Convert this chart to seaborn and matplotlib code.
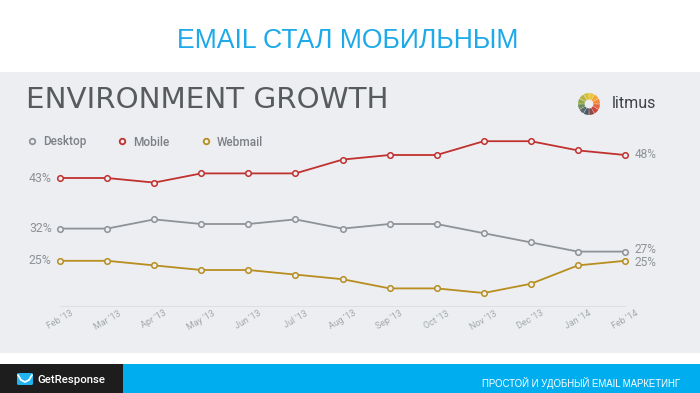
import matplotlib
matplotlib.use("Agg")
import matplotlib.pyplot as plt
from matplotlib.patches import Rectangle, Wedge, FancyBboxPatch
from matplotlib.lines import Line2D
import seaborn as sns
import pandas as pd

months = ["Feb '13", "Mar '13", "Apr '13", "May '13", "Jun '13", "Jul '13", "Aug '13",
          "Sep '13", "Oct '13", "Nov '13", "Dec '13", "Jan '14", "Feb '14"]
desktop = [32, 32, 34, 33, 33, 34, 32, 33, 33, 31, 29, 27, 27]
mobile = [43, 43, 42, 44, 44, 44, 47, 48, 48, 51, 51, 49, 48]
webmail = [25, 25, 24, 23, 23, 22, 21, 19, 19, 18, 20, 24, 25]
series_names = ["Desktop", "Mobile", "Webmail"]
colors = {"Desktop": "#8e9398", "Mobile": "#c0312f", "Webmail": "#b78e1f"}

rows = []
for name, vals in zip(series_names, [desktop, mobile, webmail]):
    for i, v in enumerate(vals):
        rows.append({"idx": i, "month": months[i], "value": v, "series": name})
df = pd.DataFrame(rows)

sns.set_theme(style="white")
plt.rcParams['font.family'] = ['Roboto', 'DejaVu Sans']

W, H = 700, 393
fig = plt.figure(figsize=(7, 3.93), dpi=100)
fig.patch.set_facecolor("white")

def fx(px):
    return px / W

def fy(py):
    return 1 - py / H

BG = "#eceef1"
# chart image background
fig.patches.append(Rectangle((0, fy(353)), 1, (353 - 72) / H, transform=fig.transFigure,
                             facecolor=BG, edgecolor="none", zorder=-10))
# footer
fig.patches.append(Rectangle((0, 0), fx(123), fy(364), transform=fig.transFigure,
                             facecolor="#1e1d1e", edgecolor="none", zorder=-10))
fig.patches.append(Rectangle((fx(123), 0), 1 - fx(123), fy(364), transform=fig.transFigure,
                             facecolor="#00aeef", edgecolor="none", zorder=-10))

# slide title
fig.text(0.497, fy(41), "EMAIL СТАЛ МОБИЛЬНЫМ", ha="center", va="center",
         fontsize=19.2, color="#1eaae8", family=["Liberation Sans", "DejaVu Sans"])

# footer texts
fig.text(fx(37), fy(380), "GetResponse", ha="left", va="center", fontsize=8.2,
         color="white", family=["Roboto", "DejaVu Sans"], fontweight="medium")
fig.text(fx(680), fy(383), "ПРОСТОЙ И УДОБНЫЙ EMAIL МАРКЕТИНГ", ha="right", va="center",
         fontsize=6.9, color="white", family=["Liberation Sans", "DejaVu Sans"])
# GetResponse icon
fig.patches.append(FancyBboxPatch((fx(17), fy(385)), fx(16), (385 - 373) / H,
                                  boxstyle="round,pad=0.0,rounding_size=0.003",
                                  transform=fig.transFigure, facecolor="#20b4f0",
                                  edgecolor="none", zorder=2))
fig.lines.append(Line2D([fx(18), fx(21), fx(25), fx(29), fx(32)],
                        [fy(375), fy(380), fy(382), fy(380), fy(375)],
                        transform=fig.transFigure, color="white", lw=1.3, zorder=3))

# chart title
fig.text(fx(26), fy(100), "ENVIRONMENT GROWTH", ha="left", va="center",
         fontsize=21.2, color="#585b5e", family=["DejaVu Sans"])

# litmus logo
lax = fig.add_axes([fx(578), fy(115), fx(22), 22 / H])
lax.set_xlim(-1, 1)
lax.set_ylim(-1, 1)
lax.axis("off")
ring_colors = ["#ecc53a", "#f5a733", "#f28a3a", "#e6673a", "#cc443a", "#8c4a44",
               "#4c5863", "#5d6b6e", "#6f8d57", "#93a749", "#b7b542", "#d8c03c"]
n = len(ring_colors)
for k, c in enumerate(ring_colors):
    start = 90 - (k + 1) * 360 / n
    lax.add_patch(Wedge((0, 0), 1.0, start + 1.5, start + 360 / n - 1.5, width=0.6,
                        facecolor=c, edgecolor="none"))
fig.text(fx(612), fy(103), "litmus", ha="left", va="center", fontsize=11.5,
         color="#3d4146")

# main axes
y_bottom_px, y_top_px = 306, 130
scale = 4.6  # px per percent
v_bottom = 43 - (y_bottom_px - 178) / scale
v_top = 43 + (178 - y_top_px) / scale
ax = fig.add_axes([fx(60), fy(y_bottom_px), fx(625) - fx(60), (y_bottom_px - y_top_px) / H])
ax.set_facecolor("none")
sns.lineplot(data=df, x="idx", y="value", hue="series", palette=colors, ax=ax,
             marker="o", markersize=4, markeredgewidth=1.1, markerfacecolor=BG,
             linewidth=1.3, legend=False, sort=False, clip_on=False)
for line in ax.lines:
    line.set_markeredgecolor(line.get_color())
    line.set_markerfacecolor(BG)
    line.set_clip_on(False)

ax.set_xlim(0, 12)
ax.set_ylim(v_bottom, v_top)
ax.set_xticks(range(len(months)))
ax.set_xticklabels(months, rotation=30, ha="center", fontsize=6.4, color="#a3a7ab")
ax.tick_params(axis="x", length=0, pad=2)
ax.set_yticks([])
ax.set_xlabel("")
ax.set_ylabel("")
for s in ["top", "left", "right"]:
    ax.spines[s].set_visible(False)
ax.spines["bottom"].set_color("#dde0e3")
ax.spines["bottom"].set_linewidth(0.8)

right_shift = {"Desktop": 1.5, "Mobile": 0, "Webmail": -1.2}
for name, vals in zip(series_names, [desktop, mobile, webmail]):
    ax.annotate(f"{vals[0]}%", xy=(0, vals[0]), xytext=(-6, 0), textcoords="offset points",
                ha="right", va="center", fontsize=8.8, color="#8e9195")
    ax.annotate(f"{vals[-1]}%", xy=(12, vals[-1]), xytext=(7, right_shift[name]),
                textcoords="offset points",
                ha="left", va="center", fontsize=8.6, color="#8e9195")

handles = [Line2D([], [], linestyle="none", marker="o", markersize=4, markeredgewidth=1.3,
                  markeredgecolor=colors[nm], markerfacecolor=BG) for nm in series_names]
fig.legend(handles, series_names, loc="center left", bbox_to_anchor=(fx(14), fy(142)),
           ncol=3, frameon=False, labelcolor="#7c8085", handletextpad=0.35,
           columnspacing=2.45, handlelength=1.2, prop={"weight": "medium", "size": 8.5})

fig.savefig("out.png", dpi=100, facecolor="white")
